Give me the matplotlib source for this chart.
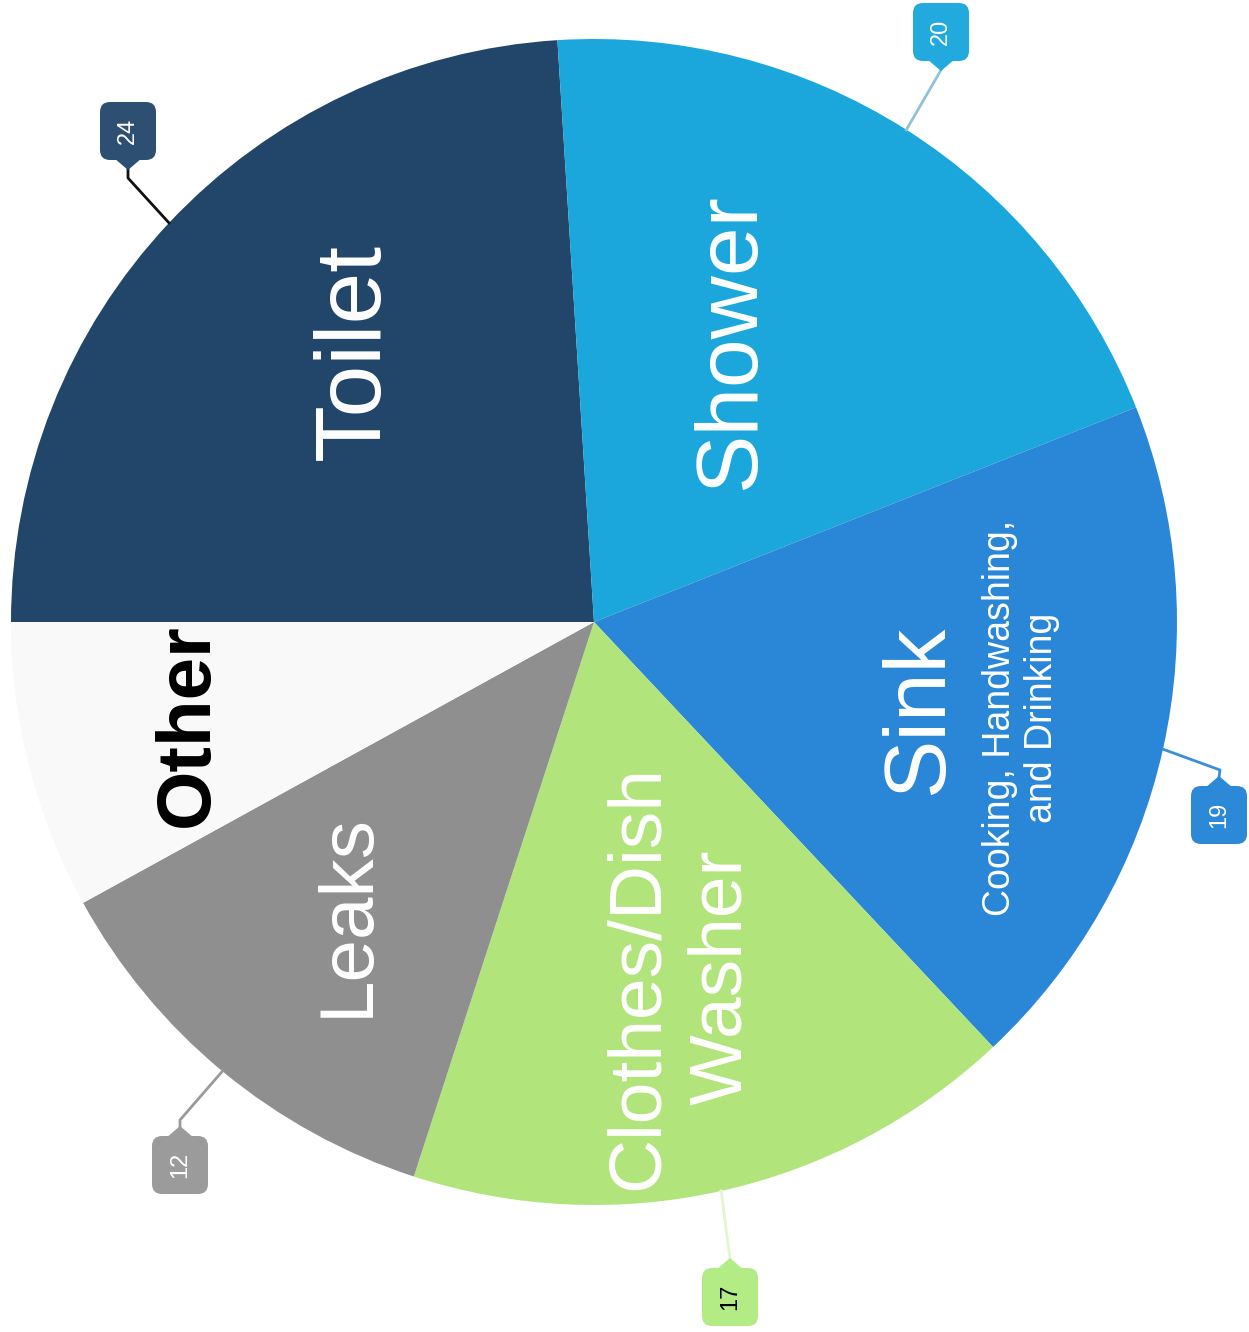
import numpy as np
import matplotlib.pyplot as plt
from matplotlib.patches import FancyBboxPatch, Polygon

plt.rcParams['font.family'] = ['Liberation Sans', 'DejaVu Sans']

categories = ['Toilet', 'Shower', 'Sink', 'Clothes/Dish\nWasher', 'Leaks', 'Other']
values = [24, 20, 19, 17, 12, 8]
colors = ['#21466a', '#1ba7dc', '#2a86d6', '#b1e57c', '#8f8f8f', '#f9f9f9']
badge_colors = ['#2d5072', '#22a9dd', '#2c89d8', '#b3ec84', '#9b9b9b']
line_colors = ['#111111', '#8fc3d8', '#3a8fd8', '#e4f5cf', '#9a9a9a']
badge_text_colors = ['white', 'white', 'white', 'black', 'white']
sink_note = 'Cooking, Handwashing,\nand Drinking'

W, H = 1249, 1332
cx, cy, r = 594, H - 622, 583

fig = plt.figure(figsize=(W / 100, H / 100), dpi=100)
ax = fig.add_axes([0, 0, 1, 1])
wedges, _ = ax.pie(values, colors=colors, startangle=180, counterclock=False,
                   center=(cx, cy), radius=r,
                   wedgeprops=dict(linewidth=0))
ax.set_xlim(0, W)
ax.set_ylim(0, H)
ax.set_aspect('equal')
ax.axis('off')

# big labels, rotated like the source
label_pos = [(355, 352, 67), (732, 342, 63), (920, 710, 63),
             (680, 977, 54), (348, 915, 55), (188, 725, 55)]
for i, (x, y, fs) in enumerate(label_pos):
    col = 'black' if categories[i] == 'Other' else 'white'
    wt = 'bold' if categories[i] == 'Other' else 'normal'
    ax.text(x, H - y, categories[i], rotation=90, ha='center', va='center',
            fontsize=fs, color=col, fontweight=wt, linespacing=1.25)
ax.text(1021, H - 718, sink_note, rotation=90, ha='center', va='center',
        fontsize=27, color='white', linespacing=1.2)

# value badges with leader lines
badge_layout = [((128, 178), (128, 131), 'bottom'),
                (None, (941, 32), 'bottom'),
                ((1220, 770), (1219, 815), 'top'),
                (None, (730, 1297), 'top'),
                ((180, 1120), (180, 1165), 'top')]
bw, bh = 50, 52
for i, (elbow, (bx, by), side) in enumerate(badge_layout):
    w = wedges[i]
    th = np.deg2rad((w.theta1 + w.theta2) / 2)
    ex, ey = cx + r * np.cos(th), cy + r * np.sin(th)
    tip_y = by + bh / 2 + 12 if side == 'bottom' else by - bh / 2 - 12
    pts = [(ex, ey)]
    if elbow is not None:
        pts.append((elbow[0], H - elbow[1]))
    pts.append((bx, H - tip_y))
    xs, ys = zip(*pts)
    ax.plot(xs, ys, color=line_colors[i], lw=2, zorder=3)
    box = FancyBboxPatch((bx - bw / 2, H - by - bh / 2), bw, bh,
                         boxstyle='round,pad=3,rounding_size=10',
                         fc=badge_colors[i], ec='none', zorder=4)
    ax.add_patch(box)
    if side == 'bottom':
        base = H - (by + bh / 2 + 1)
        tri = [(bx - 14, base), (bx + 14, base), (bx, base - 12)]
    else:
        base = H - (by - bh / 2 - 1)
        tri = [(bx - 14, base), (bx + 14, base), (bx, base + 12)]
    ax.add_patch(Polygon(tri, closed=True, fc=badge_colors[i], ec='none', zorder=4))
    ax.text(bx, H - by, str(values[i]), rotation=90, ha='center', va='center',
            fontsize=17, color=badge_text_colors[i], zorder=5)

fig.savefig('out.png', dpi=100)
